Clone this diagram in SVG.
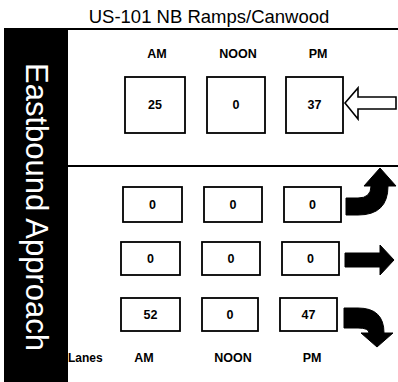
<svg xmlns="http://www.w3.org/2000/svg" width="398" height="382" viewBox="0 0 398 382">
<style>
.t{font-family:"Liberation Sans",Arial,sans-serif;fill:#000}
.hd{font-size:12.5px;font-weight:bold;text-anchor:middle}
.num{font-size:12.5px;font-weight:bold;text-anchor:middle}
.box{fill:#fff;stroke:#000;stroke-width:1.8}
.line{stroke:#000;stroke-width:1.8}
.solid{fill:#000;stroke:#000;stroke-width:1}
</style>
<rect width="398" height="382" fill="#fff"/>
<text class="t" x="209" y="23" font-size="18.5" text-anchor="middle">US-101 NB Ramps/Canwood</text>
<g id="band">
<rect x="4" y="28" width="64" height="354" fill="#000"/>
<text class="t" transform="translate(26,207) rotate(90)" font-size="31" text-anchor="middle" style="fill:#fff">Eastbound Approach</text>
</g>
<line class="line" x1="68" y1="29" x2="398" y2="29"/>
<line class="line" x1="68" y1="166" x2="398" y2="166"/>
<g id="header">
<text class="t hd" x="157" y="58">AM</text>
<text class="t hd" x="238" y="58">NOON</text>
<text class="t hd" x="318" y="58">PM</text>
</g>
<g id="approach-am"><rect class="box" x="125" y="77" width="60" height="56"/><text class="t num" x="155" y="109">25</text></g>
<g id="approach-noon"><rect class="box" x="207" y="77" width="58" height="56"/><text class="t num" x="236" y="109">0</text></g>
<g id="approach-pm"><rect class="box" x="286" y="77" width="57" height="56"/><text class="t num" x="314.5" y="109">37</text></g>
<g id="left-am"><rect class="box" x="123" y="187" width="59" height="35"/><text class="t num" x="152.5" y="209">0</text></g>
<g id="left-noon"><rect class="box" x="204" y="187" width="58" height="35"/><text class="t num" x="233" y="209">0</text></g>
<g id="left-pm"><rect class="box" x="284" y="187" width="57" height="35"/><text class="t num" x="312.5" y="209">0</text></g>
<g id="thru-am"><rect class="box" x="121" y="242" width="59" height="33"/><text class="t num" x="150.5" y="263">0</text></g>
<g id="thru-noon"><rect class="box" x="202" y="242" width="58" height="33"/><text class="t num" x="231" y="263">0</text></g>
<g id="thru-pm"><rect class="box" x="282" y="242" width="57" height="33"/><text class="t num" x="310.5" y="263">0</text></g>
<g id="right-am"><rect class="box" x="121" y="298" width="59" height="33"/><text class="t num" x="150.5" y="319">52</text></g>
<g id="right-noon"><rect class="box" x="202" y="298" width="56" height="33"/><text class="t num" x="230" y="319">0</text></g>
<g id="right-pm"><rect class="box" x="280" y="298" width="57" height="33"/><text class="t num" x="308.5" y="319">47</text></g>
<g id="arrows">
<path d="M345,103 L358,88 L358,97 L396,97 L396,109 L358,109 L358,119 Z" fill="#fff" stroke="#000" stroke-width="1.6"/>
<path class="solid" d="M346,198 L358,198 Q371,198 371,186 L364,186 L380,168 L396,186 L388,186 Q388,215 358,215 L346,215 Z"/>
<path class="solid" d="M345,253 L380,253 L380,245 L394,260 L380,275 L380,267 L345,267 Z"/>
<path class="solid" d="M344,308 L358,308 Q384,308 384,333 L393,333 L377,347 L361,333 L369,333 Q369,328 358,328 L344,328 Z"/>
</g>
<g id="footer">
<text class="t" x="68" y="362" font-size="12" font-weight="bold">Lanes</text>
<text class="t hd" x="144" y="362">AM</text>
<text class="t hd" x="233" y="362">NOON</text>
<text class="t hd" x="312" y="362">PM</text>
</g>
</svg>
